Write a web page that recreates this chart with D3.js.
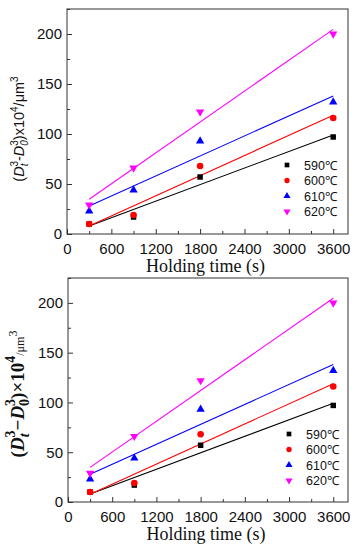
<!DOCTYPE html>
<html lang="en">
<head>
  <meta charset="UTF-8">
  <title>Grain growth kinetics</title>
  <script src="https://d3js.org/d3.v7.min.js"></script>
  <style>
    body { margin: 0; background: #fff; }
  </style>
</head>
<body>
<div id="chart"></div>
<script>
  // holding times (s)
  var times = [300, 900, 1800, 3600];
  var temps = ["590℃", "600℃", "610℃", "620℃"];
  // (Dt^3 - D0^3) x 10^4 / um^3
  var s590 = [10, 17, 57, 97];
  var s600 = [10, 19, 68, 116];
  var s610 = [23, 44, 93, 132];
  var s620 = [29, 66, 122, 200];
  var xTicks = [0, 600, 1200, 1800, 2400, 3000, 3600];
  var yTicks = [0, 50, 100, 150, 200];

  var series = [s590, s600, s610, s620];
  var colors = ["#000000", "#ff0000", "#0000ff", "#ff00ff"];
  var shapes = [d3.symbolSquare, d3.symbolCircle, d3.symbolTriangle, d3.symbolTriangle];
  var rot = [0, 0, 0, 180];
  var SANS = "'Liberation Sans', Arial, sans-serif";
  var SERIF = "'Liberation Serif', 'Times New Roman', serif";

  var width = 357, height = 550;
  var svg = d3.select("#chart").append("svg")
    .attr("width", width).attr("height", height)
    .style("font-family", SANS);

  function fit(xs, ys) {
    var mx = d3.mean(xs), my = d3.mean(ys);
    var sxy = d3.sum(xs, (x, i) => (x - mx) * (ys[i] - my));
    var sxx = d3.sum(xs, x => (x - mx) * (x - mx));
    var b = sxy / sxx;
    return { a: my - b * mx, b: b };
  }

  function panel(p) {
    var x = d3.scaleLinear().domain([0, 3800]).range([p.left, p.right]);
    var y = d3.scaleLinear().domain([0, 225]).range([p.bottom, p.top]);
    var g = svg.append("g");

    // fit lines
    series.forEach(function(s, i) {
      var f = fit(times, s);
      g.append("line")
        .attr("x1", x(300)).attr("y1", y(f.a + f.b * 300))
        .attr("x2", x(3600)).attr("y2", y(f.a + f.b * 3600))
        .attr("stroke", colors[i]).attr("stroke-width", 1.1);
    });

    // points
    series.forEach(function(s, i) {
      g.selectAll(null).data(s).enter().append("path")
        .attr("d", d3.symbol().type(shapes[i]).size(i == 1 ? 34 : 30))
        .attr("transform", (d, j) => "translate(" + x(times[j]) + "," + y(d) + ") rotate(" + rot[i] + ")")
        .attr("fill", colors[i]);
    });

    // frame
    g.append("rect")
      .attr("x", p.left).attr("y", p.top)
      .attr("width", p.right - p.left).attr("height", p.bottom - p.top)
      .attr("fill", "none").attr("stroke", "#333").attr("stroke-width", 1);

    // x axis
    g.append("g").attr("transform", "translate(0," + p.bottom + ")")
      .call(d3.axisBottom(x).tickValues(xTicks).tickSize(-5).tickPadding(9).tickFormat(d3.format("d")));
    g.append("g").attr("transform", "translate(0," + p.bottom + ")")
      .call(d3.axisBottom(x).tickValues(d3.range(300, 3800, 600)).tickSize(-3).tickFormat(""));
    // y axis
    g.append("g").attr("transform", "translate(" + p.left + ",0)")
      .call(d3.axisLeft(y).tickValues(yTicks).tickSize(-5).tickPadding(5));
    g.append("g").attr("transform", "translate(" + p.left + ",0)")
      .call(d3.axisLeft(y).tickValues([25, 75, 125, 175, 225]).tickSize(-3).tickFormat(""));

    g.selectAll(".domain").remove();
    g.selectAll(".tick line").attr("stroke", "#333");
    g.selectAll(".tick text").style("font-size", "15px").style("font-family", SANS).attr("fill", "#111");

    // legend
    temps.forEach(function(t, i) {
      var ly = p.legY + i * 15.5;
      g.append("path")
        .attr("d", d3.symbol().type(shapes[i]).size(22))
        .attr("transform", "translate(" + p.legX + "," + ly + ") rotate(" + rot[i] + ")")
        .attr("fill", colors[i]);
      g.append("text").attr("x", p.legX + 17).attr("y", ly + 4.5)
        .style("font-size", "12.5px").attr("fill", "#111").text(t);
    });

    // x title
    g.append("text")
      .attr("x", (p.left + p.right) / 2 - 2).attr("y", p.bottom + 38)
      .attr("text-anchor", "middle").attr("fill", "#111")
      .style("font-family", SERIF)
      .style("font-size", "18px").text("Holding time (s)");

    return g;
  }

  var g1 = panel({ left: 67, right: 348, top: 9, bottom: 234, legX: 287, legY: 165 });
  var g2 = panel({ left: 68, right: 348, top: 278, bottom: 502, legX: 289, legY: 434 });

  // y title, top panel (sans)
  var t1 = g1.append("text")
    .attr("transform", "translate(24,129) rotate(-90)")
    .attr("text-anchor", "middle").style("font-size", "14.5px").attr("fill", "#111");
  t1.append("tspan").text("(");
  t1.append("tspan").attr("font-style", "italic").text("D");
  t1.append("tspan").attr("font-style", "italic").style("font-size", "10px").attr("dy", 3.5).text("t");
  t1.append("tspan").style("font-size", "10px").attr("dx", -3).attr("dy", -10).text("3");
  t1.append("tspan").attr("dy", 6.5).text("-");
  t1.append("tspan").attr("font-style", "italic").text("D");
  t1.append("tspan").attr("font-style", "italic").style("font-size", "10px").attr("dy", 3.5).text("0");
  t1.append("tspan").style("font-size", "10px").attr("dx", -5.6).attr("dy", -10).text("3");
  t1.append("tspan").attr("dy", 6.5).text(")x10");
  t1.append("tspan").style("font-size", "10px").attr("dy", -6.5).text("4");
  t1.append("tspan").attr("dy", 6.5).text("/μm");
  t1.append("tspan").style("font-size", "10px").attr("dy", -6.5).text("3");

  // y title, bottom panel (serif, bold)
  var t2 = g2.append("text")
    .attr("transform", "translate(24,394) rotate(-90)")
    .attr("text-anchor", "middle").style("font-size", "19px").attr("font-weight", "bold")
    .attr("fill", "#111").style("font-family", SERIF);
  t2.append("tspan").text("(");
  t2.append("tspan").attr("font-style", "italic").text("D");
  t2.append("tspan").attr("font-style", "italic").style("font-size", "14px").attr("dy", 5).text("t");
  t2.append("tspan").style("font-size", "14px").attr("dx", -4).attr("dy", -14).text("3");
  t2.append("tspan").attr("dy", 9).text("\u2212");
  t2.append("tspan").attr("font-style", "italic").text("D");
  t2.append("tspan").style("font-size", "14px").attr("dy", 5).text("0");
  t2.append("tspan").style("font-size", "14px").attr("dx", -7).attr("dy", -14).text("3");
  t2.append("tspan").attr("dy", 9).text(")\u00d710");
  t2.append("tspan").style("font-size", "14px").attr("dy", -9).text("4");
  t2.append("tspan").attr("dy", 9).style("font-size", "12px").attr("font-weight", "normal")
    .style("font-family", SERIF).text("/μm");
  t2.append("tspan").style("font-size", "12px").attr("font-weight", "normal")
    .attr("dy", -7).text("3");
</script>
</body>
</html>
